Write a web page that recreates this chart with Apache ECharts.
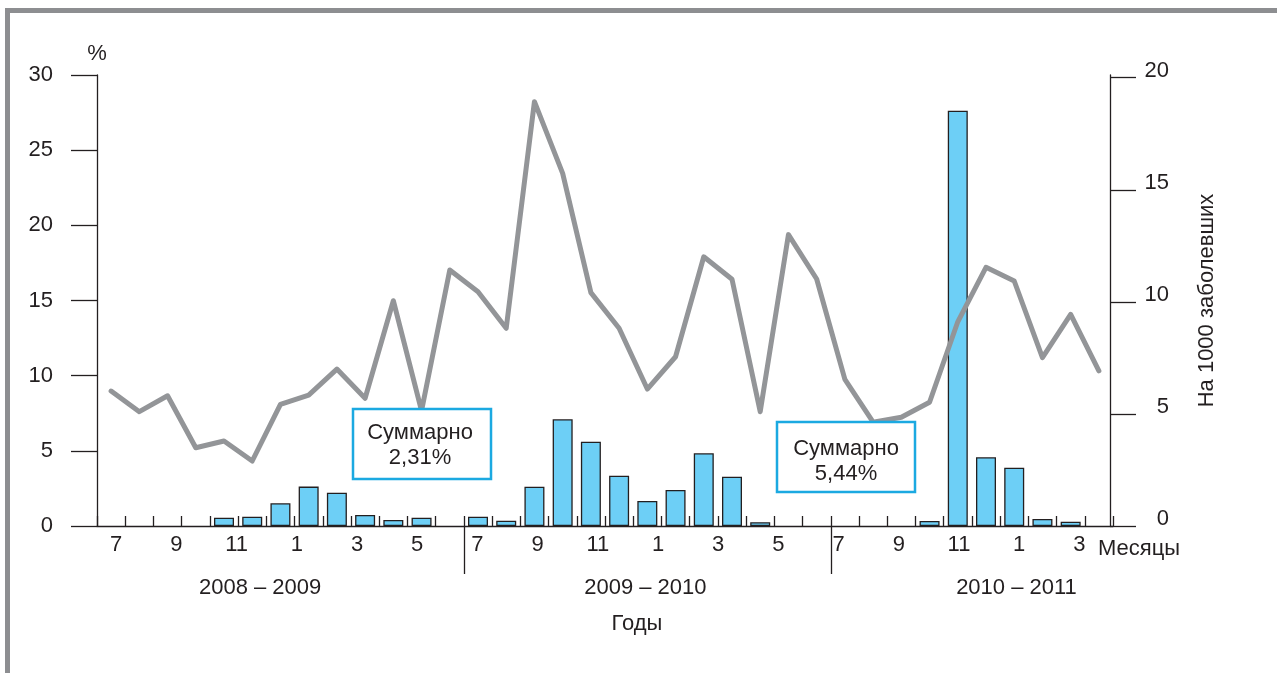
<!DOCTYPE html>
<html><head><meta charset="utf-8">
<script src="https://cdn.jsdelivr.net/npm/echarts@6/dist/echarts.min.js"></script>
<style>html,body{margin:0;padding:0;background:#fff}#c{width:1277px;height:673px}</style>
</head><body><div id="c"></div>
<script>
// ---- data ----
const slotNames = ['1','2','3','4','5','6','7','8','9','10','11','12','13','14','15','16','17','18',
  '19','20','21','22','23','24','25','26','27','28','29','30','31','32','33','34','35','36'];
// bars, % (left axis)
const barValues = [null,null,null,null,0.55,0.62,1.51,2.62,2.22,0.73,0.40,0.55,null,
  0.62,0.35,2.61,7.10,5.61,3.35,1.66,2.39,4.84,3.28,0.25,null,null,
  null,null,null,0.33,27.63,4.57,3.88,0.47,0.29,null];
// line, per 1000 patients (right axis)
const lineValues = [6.02,5.10,5.81,3.49,3.79,2.90,5.43,5.84,7.00,5.70,10.05,5.14,11.42,
  10.45,8.82,18.93,15.73,10.41,8.82,6.11,7.55,12.01,11.01,5.10,13.00,11.02,
  6.54,4.63,4.85,5.52,9.11,11.54,10.93,7.51,9.44,6.92];
const rightTicks = [0,5,10,15,20];
const monthLabels = ['7','9','11','1','3','5','7','9','11','1','3','5','7','9','11','1','3'];
const monthLabelPos = [0,2,4,6,8,10,12,14,16,18,20,22,24,26,28,30,32];
const yearLabels = ['2008 – 2009','2009 – 2010','2010 – 2011'];
const yearLabelPos = [5.78,19.43,32.58];
const yearBreaks = [13,26];
const notes = ['Суммарно\n2,31%','Суммарно\n5,44%'];
const leftName = '%', rightName = 'На 1000 заболевших', monthName = 'Месяцы', yearName = 'Годы';

// ---- style ----
const FONT = "'Liberation Sans', Arial, Helvetica, sans-serif";
const INK = '#231f20';
const FS = 22;
function pick(labels, pos) {
  return function (v) {
    for (let i = 0; i < pos.length; i++) if (Math.abs(pos[i] - v) < 1e-6) return labels[i];
    return '';
  };
}
const chart = echarts.init(document.getElementById('c'), null, {renderer: 'canvas'});
chart.setOption({
  animation: false,
  backgroundColor: '#ffffff',
  textStyle: {fontFamily: FONT, color: INK},
  grid: {left: 97, right: 164, top: 75, bottom: 147, containLabel: false, outerBoundsMode: 'none'},
  xAxis: [
    {type: 'category', data: slotNames, boundaryGap: true, position: 'bottom',
     axisLine: {show: true, onZero: false, lineStyle: {color: INK, width: 1.3}},
     axisTick: {show: true, inside: true, length: 10, interval: 0, lineStyle: {color: INK, width: 1.3}},
     axisLabel: {show: false}, splitLine: {show: false}},
    {type: 'value', min: -0.638, max: 33.116, position: 'bottom',
     axisLine: {show: false, onZero: false}, axisTick: {show: false}, splitLine: {show: false},
     axisLabel: {show: true, customValues: monthLabelPos, formatter: pick(monthLabels, monthLabelPos),
       margin: 8, fontSize: FS, color: INK, fontFamily: FONT},
     name: monthName, nameLocation: 'end', nameGap: -15,
     nameTextStyle: {fontSize: FS, color: INK, fontFamily: FONT, align: 'left', verticalAlign: 'top', padding: [12, 0, 0, 0]}},
    {type: 'value', min: 0, max: 36, position: 'bottom',
     axisLine: {show: false, onZero: false}, splitLine: {show: false},
     axisTick: {show: true, customValues: yearBreaks, length: 48, inside: false, lineStyle: {color: INK, width: 1.3}},
     axisLabel: {show: true, customValues: yearLabelPos, formatter: pick(yearLabels, yearLabelPos),
       margin: 51, fontSize: FS, color: INK, fontFamily: FONT},
     name: yearName, nameLocation: 'middle', nameGap: 87,
     nameTextStyle: {fontSize: FS, color: INK, fontFamily: FONT, padding: [0, 0, 0, 64]}}
  ],
  yAxis: [
    {type: 'value', min: 0, max: 30, interval: 5, position: 'left',
     axisLine: {show: true, onZero: false, lineStyle: {color: INK, width: 1.3}},
     axisTick: {show: true, inside: false, length: 26, lineStyle: {color: INK, width: 1.3}},
     axisLabel: {margin: 44, fontSize: FS, color: INK, fontFamily: FONT, align: 'right'},
     splitLine: {show: false},
     name: leftName, nameLocation: 'end', nameGap: 10,
     nameTextStyle: {fontSize: FS, color: INK, fontFamily: FONT}},
    {type: 'value', min: 0, max: 20.12, position: 'right', offset: -3,
     axisLine: {show: true, onZero: false, lineStyle: {color: INK, width: 1.3}},
     axisTick: {show: true, inside: false, length: 26, customValues: rightTicks, lineStyle: {color: INK, width: 1.3}},
     axisLabel: {margin: 59, fontSize: FS, color: INK, fontFamily: FONT, align: 'right',
       customValues: rightTicks, verticalAlign: 'bottom', lineHeight: 14},
     splitLine: {show: false},
     name: rightName, nameLocation: 'middle', nameGap: 86, nameRotate: 90,
     nameTextStyle: {fontSize: FS, color: INK, fontFamily: FONT}}
  ],
  series: [
    {type: 'bar', xAxisIndex: 0, yAxisIndex: 0, data: barValues, barWidth: 20,
     itemStyle: {color: '#6dcff6', borderColor: INK, borderWidth: 1.3}},
    {type: 'line', xAxisIndex: 0, yAxisIndex: 1, data: lineValues, showSymbol: false, symbol: 'none',
     lineStyle: {color: '#939598', width: 5, cap: 'round', join: 'round'}}
  ],
  graphic: [
    {type: 'rect', silent: true, z: 100,
     shape: {x: 7.5, y: 10.5, width: 1400, height: 800},
     style: {fill: 'none', stroke: '#8d8e91', lineWidth: 5}},
    {type: 'rect', silent: true, z: 100,
     shape: {x: 353, y: 409, width: 138, height: 70},
     style: {fill: '#ffffff', stroke: '#1ba9e1', lineWidth: 2.5}},
    {type: 'text', silent: true, z: 101,
     style: {text: notes[0], x: 420, y: 445, align: 'center', verticalAlign: 'middle',
       fontSize: FS, fontFamily: FONT, lineHeight: 25, fill: INK}},
    {type: 'rect', silent: true, z: 100,
     shape: {x: 777, y: 422, width: 138, height: 70},
     style: {fill: '#ffffff', stroke: '#1ba9e1', lineWidth: 2.5}},
    {type: 'text', silent: true, z: 101,
     style: {text: notes[1], x: 846, y: 461, align: 'center', verticalAlign: 'middle',
       fontSize: FS, fontFamily: FONT, lineHeight: 25, fill: INK}}
  ]
});
</script></body></html>
